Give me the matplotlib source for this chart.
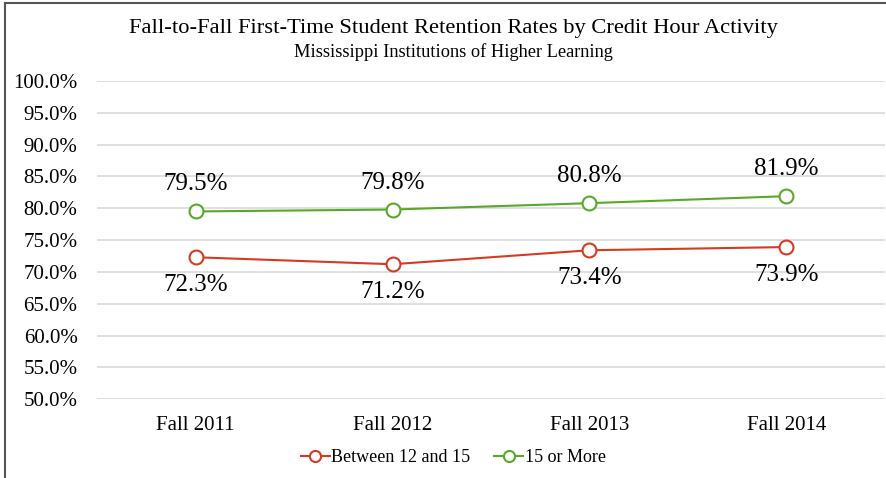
import matplotlib
matplotlib.use('Agg')
import matplotlib.pyplot as plt
from matplotlib.lines import Line2D

#%% Data
years = ['Fall 2011', 'Fall 2012', 'Fall 2013', 'Fall 2014']
between_12_15 = [72.3, 71.2, 73.4, 73.9]
more_15 = [79.5, 79.8, 80.8, 81.9]
yticks = [50, 55, 60, 65, 70, 75, 80, 85, 90, 95, 100]

red = '#D63A22'
green = '#5AA82A'

plt.rcParams['font.family'] = ['Liberation Serif', 'DejaVu Serif']

#%% Plot
fig = plt.figure(figsize=(8.87, 4.78), dpi=100)
ax = fig.add_axes([0.1094, 0.165, 0.8883, 0.6655])

x = list(range(len(years)))
ax.plot(x, between_12_15, '-o', color=red, lw=1.5, ms=10,
        mfc='white', mec=red, mew=1.5, label='Between 12 and 15', zorder=3)
ax.plot(x, more_15, '-o', color=green, lw=1.5, ms=10,
        mfc='white', mec=green, mew=1.5, label='15 or More', zorder=3)

for xi, v in zip(x, between_12_15):
    ax.annotate(f'{v:.1f}%', (xi, v), xytext=(0, -28), textcoords='offset pixels',
                ha='center', va='center', fontsize=18)
for xi, v in zip(x, more_15):
    ax.annotate(f'{v:.1f}%', (xi, v), xytext=(0, 27), textcoords='offset pixels',
                ha='center', va='center', fontsize=18)

ax.set_xlim(-0.5, len(years) - 0.5)
ax.set_ylim(50, 100)
ax.set_yticks(yticks)
ax.set_yticklabels([f'{t:.1f}%' for t in yticks], fontsize=15)
ax.set_xticks(x)
ax.set_xticklabels(years, fontsize=15)
ax.tick_params(length=0)
ax.tick_params(axis='y', pad=14)
ax.tick_params(axis='x', pad=12)
ax.grid(axis='y', color='#D9D9D9', lw=1.2)
ax.set_axisbelow(True)
for s in ax.spines.values():
    s.set_visible(False)

fig.text(0.511, 0.94, 'Fall-to-Fall First-Time Student Retention Rates by Credit Hour Activity',
         ha='center', va='center', fontsize=16.2)
fig.text(0.511, 0.891, 'Mississippi Institutions of Higher Learning',
         ha='center', va='center', fontsize=13.2)

handles = [Line2D([], [], color=red, marker='o', ms=8, mfc='white', mec=red, mew=1.5, lw=1.5),
           Line2D([], [], color=green, marker='o', ms=8, mfc='white', mec=green, mew=1.5, lw=1.5)]
fig.legend(handles, ['Between 12 and 15', '15 or More'], loc='center',
           bbox_to_anchor=(0.511, 0.042), ncol=2, frameon=False, fontsize=13,
           handlelength=1.6, handletextpad=0.1, columnspacing=1.3)

# slide border (top and left)
fig.add_artist(Line2D([0.006, 1], [0.994, 0.994], color='#555555', lw=1.5))
fig.add_artist(Line2D([0.006, 0.006], [0, 0.994], color='#555555', lw=1.5))

fig.savefig('out.png', dpi=100)
